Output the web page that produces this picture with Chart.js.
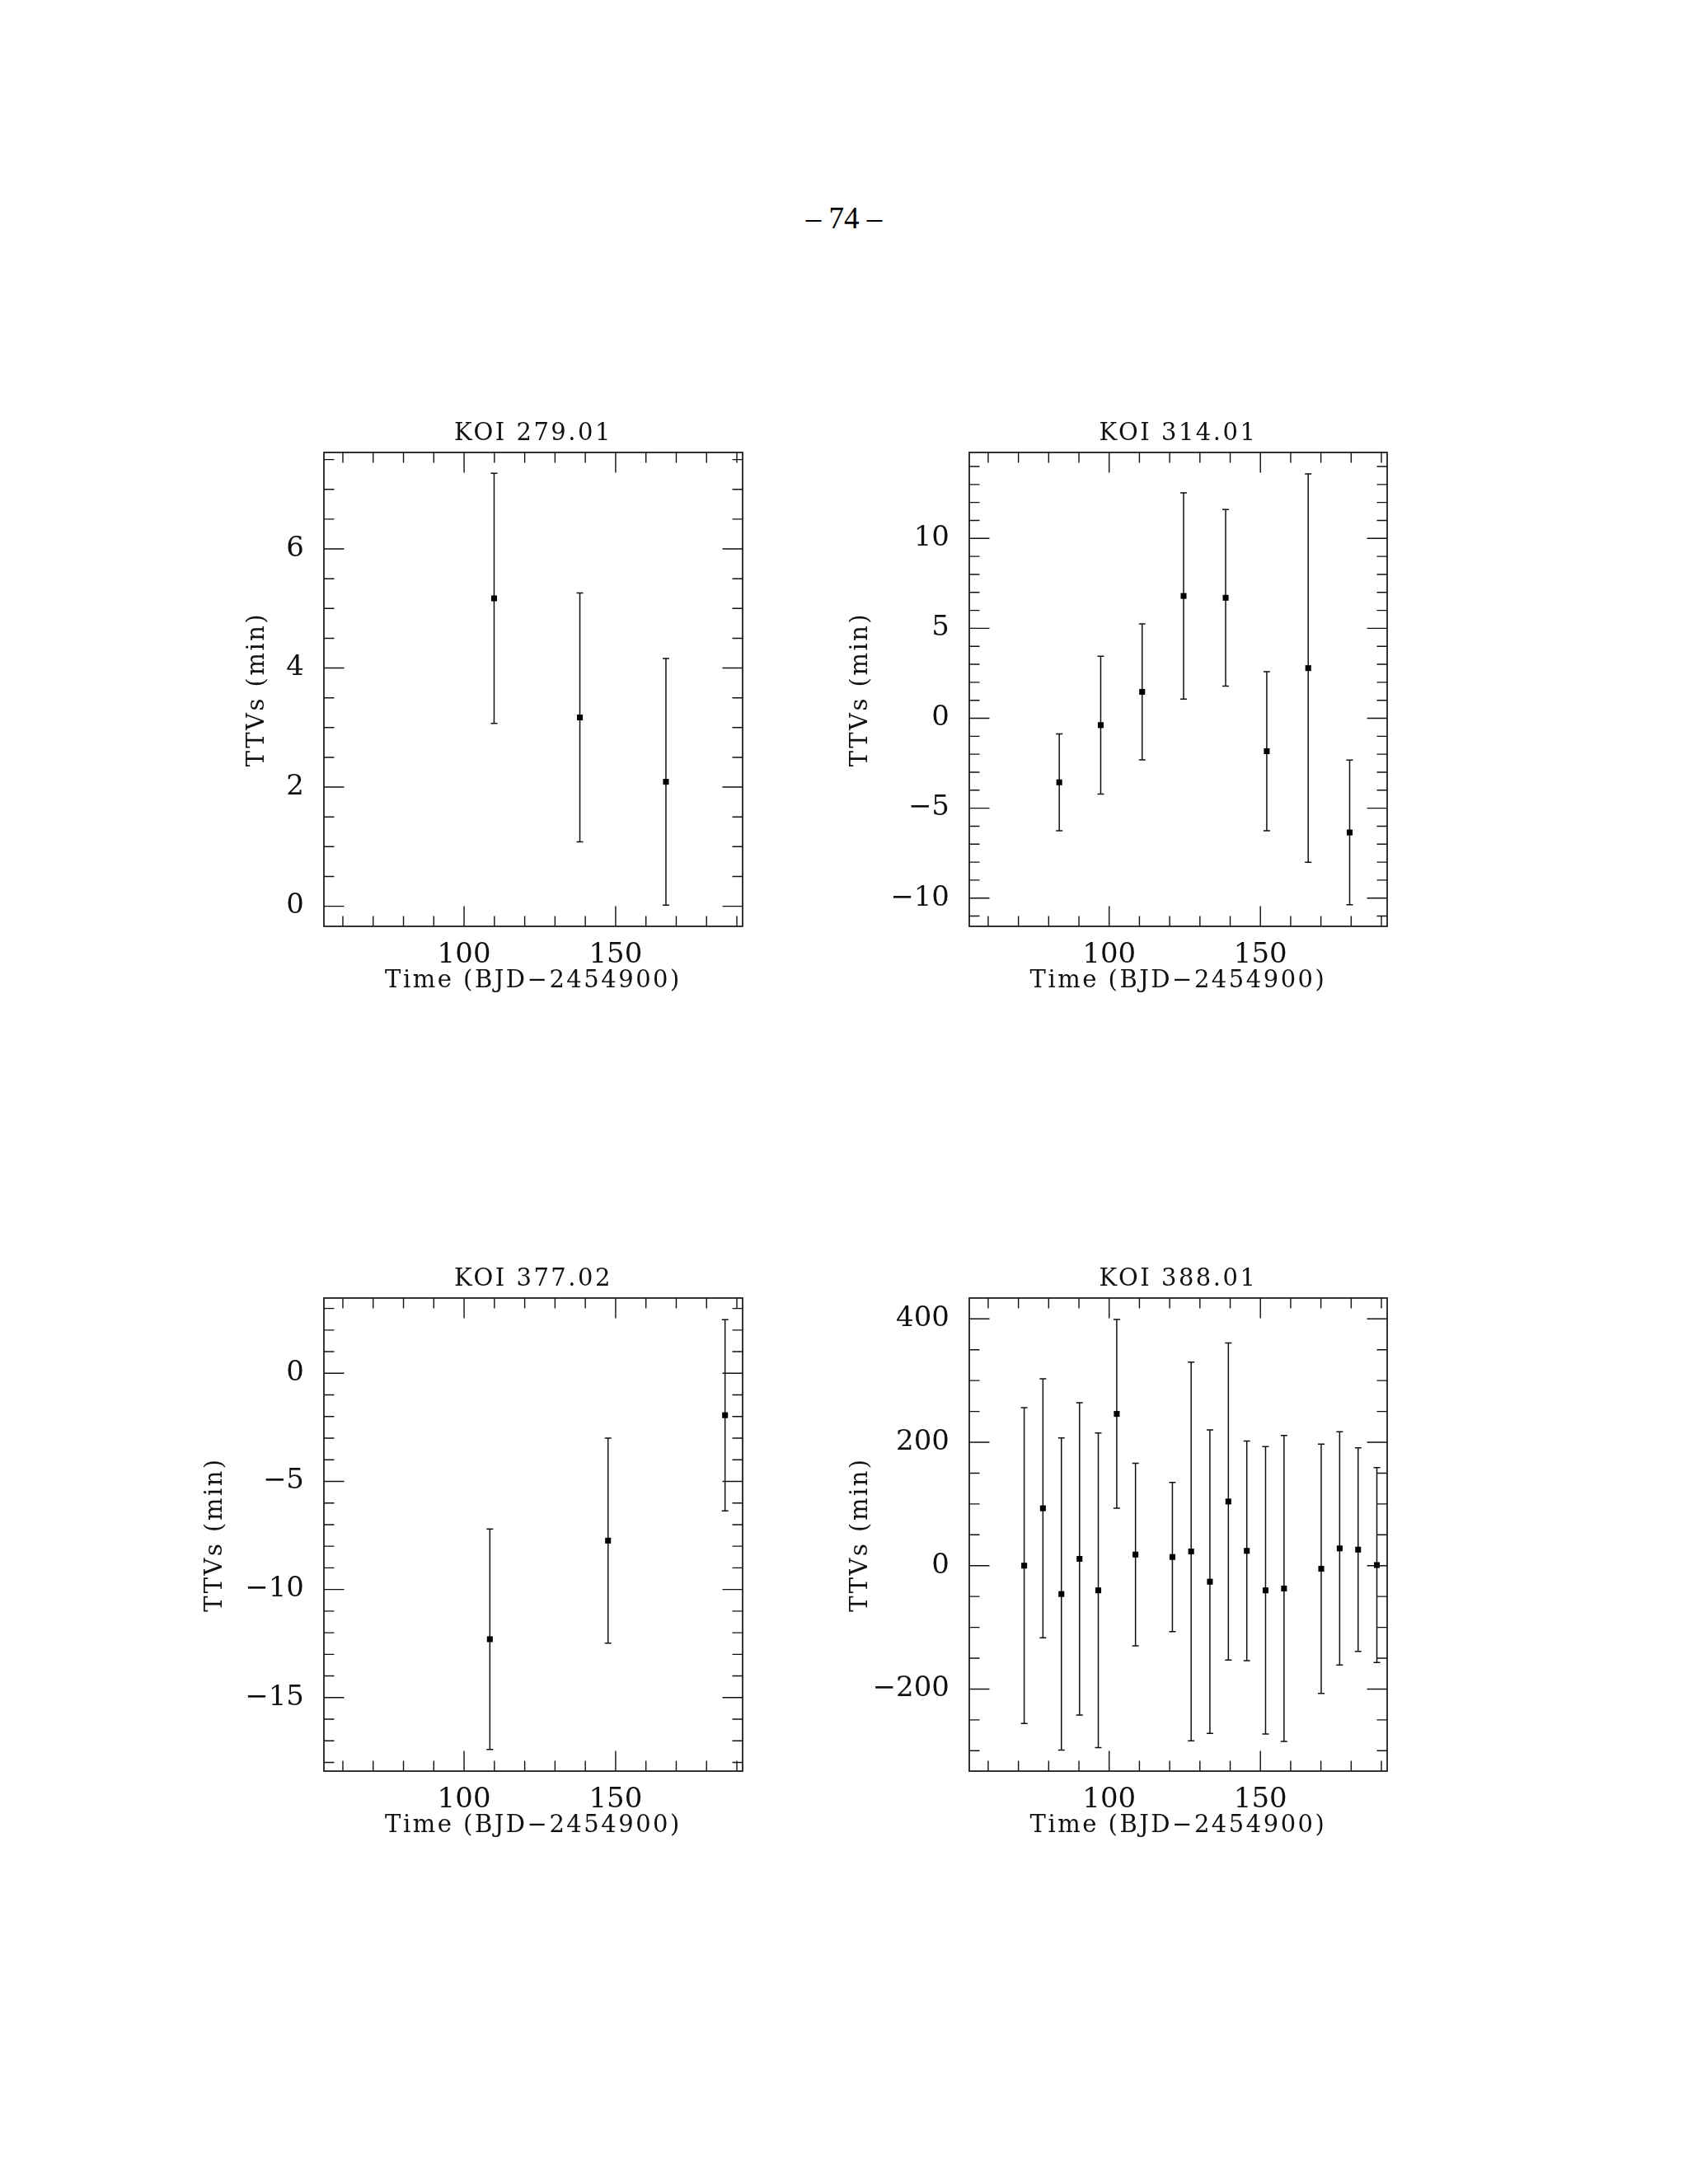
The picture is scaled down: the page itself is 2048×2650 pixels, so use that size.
<!DOCTYPE html>
<html>
<head>
<meta charset="utf-8">
<script src="https://cdn.jsdelivr.net/npm/chart.js@4.4.1/dist/chart.umd.min.js"></script>
<style>
  html, body { margin: 0; padding: 0; background: #fff; }
  body { width: 2048px; height: 2650px; position: relative; overflow: hidden; }
  canvas { position: absolute; }
  #page { position: absolute; left: 0; width: 2048px; top: 246px; text-align: center;
          font: 37px/37px "Liberation Serif", serif; color: #000; }
</style>
</head>
<body>
<div id="page">– 74 –</div>
<canvas id="koi279"></canvas>
<canvas id="koi314"></canvas>
<canvas id="koi377"></canvas>
<canvas id="koi388"></canvas>
<script>
// shared x axis (BJD-2454900)
const timeRange = [53.75, 191.9];
const timeTicks = [100, 150];

// KOI 279.01
const koi279Time = [109.9, 138.2, 166.6];
const koi279Ttv = [5.17, 3.17, 2.09];
const koi279Err = [2.10, 2.09, 2.07];
const koi279Range = [-0.338, 7.62];
const koi279Ticks = [0, 2, 4, 6];

// KOI 314.01
const koi314Time = [83.5, 97.2, 110.9, 124.6, 138.5, 152.1, 165.8, 179.5];
const koi314Ttv = [-3.56, -0.38, 1.47, 6.80, 6.70, -1.83, 2.79, -6.35];
const koi314Err = [2.69, 3.83, 3.78, 5.73, 4.91, 4.42, 10.8, 4.02];
const koi314Range = [-11.57, 14.78];
const koi314Ticks = [-10, -5, 0, 5, 10];

// KOI 377.02
const koi377Time = [108.5, 147.5, 186.1];
const koi377Ttv = [-12.30, -7.74, -1.94];
const koi377Err = [5.10, 4.74, 4.42];
const koi377Range = [-18.40, 3.48];
const koi377Ticks = [-15, -10, -5, 0];

// KOI 388.01
const koi388Time = [71.9, 78.1, 84.2, 90.2, 96.4, 102.5, 108.7, 120.9, 127.1,
                    133.3, 139.4, 145.5, 151.7, 157.8, 170.1, 176.2, 182.3, 188.5];
const koi388Ttv = [0, 93, -46, 11, -40, 246, 18, 14, 23, -26, 104, 24, -40, -37, -5, 28, 26, 1];
const koi388Err = [256, 210, 253, 253, 255, 153, 148, 121, 307, 246, 257, 178, 233, 248, 202, 189, 165, 158];
const koi388Range = [-333, 433.8];
const koi388Ticks = [-200, 0, 200, 400];

const TICK_MAJOR = 24.5;
const TICK_MINOR = 12.5;
const CAP = 4;
const TITLE_BOX = 37;  // title font 29 + 8 padding
const XAXIS_H = 81;

Chart.defaults.font.family = '"DejaVu Serif", serif';
Chart.defaults.color = '#111';

const stepValues = (min, max, step) => {
  const out = [];
  const start = Math.ceil(min / step - 1e-9);
  for (let k = start; k * step <= max + 1e-9; k++) out.push(k * step);
  return out;
};
const isMultiple = (v, step) => Math.abs(v / step - Math.round(v / step)) < 1e-6;

// error bars, inward ticks on all four sides, frame
const frameTicks = {
  id: 'frameTicks',
  beforeDraw(chart) {
    // titles are drawn before the datasets, tick labels (z: 1) after
    chart.ctx.letterSpacing = '2.5px';
  },
  beforeDatasetsDraw(chart) {
    const ctx = chart.ctx;
    ctx.letterSpacing = '0px';
    const { x, y } = chart.scales;
    ctx.save();
    ctx.strokeStyle = '#111';
    ctx.lineWidth = 1.5;
    chart.data.datasets.forEach(ds => {
      ds.data.forEach((p, i) => {
        const px = x.getPixelForValue(p.x);
        const top = y.getPixelForValue(p.y + ds.yErr[i]);
        const bot = y.getPixelForValue(p.y - ds.yErr[i]);
        ctx.beginPath();
        ctx.moveTo(px, top); ctx.lineTo(px, bot);
        ctx.moveTo(px - CAP, top); ctx.lineTo(px + CAP, top);
        ctx.moveTo(px - CAP, bot); ctx.lineTo(px + CAP, bot);
        ctx.stroke();
      });
    });
    ctx.restore();
  },
  afterDraw(chart, args, o) {
    const ctx = chart.ctx;
    const a = chart.chartArea;
    const { x, y } = chart.scales;
    ctx.save();
    ctx.strokeStyle = '#111';
    ctx.lineWidth = 1.4;
    ctx.beginPath();
    stepValues(x.min, x.max, o.xMinor).forEach(v => {
      const len = isMultiple(v, o.xMajor) ? TICK_MAJOR : TICK_MINOR;
      const px = x.getPixelForValue(v);
      ctx.moveTo(px, a.bottom); ctx.lineTo(px, a.bottom - len);
      ctx.moveTo(px, a.top); ctx.lineTo(px, a.top + len);
    });
    stepValues(y.min, y.max, o.yMinor).forEach(v => {
      const len = isMultiple(v, o.yMajor) ? TICK_MAJOR : TICK_MINOR;
      const py = y.getPixelForValue(v);
      ctx.moveTo(a.left, py); ctx.lineTo(a.left + len, py);
      ctx.moveTo(a.right, py); ctx.lineTo(a.right - len, py);
    });
    ctx.stroke();
    ctx.lineWidth = 1.7;
    ctx.strokeRect(a.left, a.top, a.right - a.left, a.bottom - a.top);
    ctx.restore();
  }
};

const fmtTick = v => (v < 0 ? '\u2212' + Math.abs(v) : String(v));

const renderPanel = (id, title, time, ttv, err, range, ticks, yMajor, yMinor, box, yAxisW) => {
  const canvas = document.getElementById(id);
  const padRight = 12;
  canvas.width = yAxisW + box.width + padRight;
  canvas.height = TITLE_BOX + box.height + XAXIS_H;
  canvas.style.left = (box.left - yAxisW) + 'px';
  canvas.style.top = (box.top - TITLE_BOX) + 'px';

  return new Chart(canvas, {
    type: 'scatter',
    data: {
      datasets: [{
        data: time.map((t, i) => ({ x: t, y: ttv[i] })),
        yErr: err,
        pointStyle: 'rect',
        pointRadius: 5,
        pointHoverRadius: 5,
        borderWidth: 0,
        backgroundColor: '#000',
      }]
    },
    options: {
      responsive: false,
      animation: false,
      devicePixelRatio: 1,
      events: [],
      layout: { padding: { top: 0, left: 0, right: padRight, bottom: 0 } },
      plugins: {
        legend: { display: false },
        tooltip: { enabled: false },
        title: {
          display: true, text: title, fullSize: false, color: '#111',
          font: { size: 29, weight: 'normal', lineHeight: 1 },
          padding: { top: 0, bottom: 8 }
        },
        frameTicks: { xMajor: 50, xMinor: 10, yMajor, yMinor }
      },
      scales: {
        x: {
          type: 'linear', min: timeRange[0], max: timeRange[1],
          grid: { display: false, drawTicks: false },
          border: { display: false },
          afterBuildTicks: s => { s.ticks = timeTicks.map(v => ({ value: v })); },
          afterFit: s => { s.height = XAXIS_H; },
          ticks: { z: 1, padding: 18, maxRotation: 0, autoSkip: false, color: '#111',
                   font: { size: 34, lineHeight: 1 }, callback: fmtTick },
          title: { display: true, text: 'Time (BJD\u22122454900)', color: '#111',
                   font: { size: 29, lineHeight: 1 }, padding: 0 }
        },
        y: {
          type: 'linear', min: range[0], max: range[1],
          grid: { display: false, drawTicks: false },
          border: { display: false },
          afterBuildTicks: s => { s.ticks = ticks.map(v => ({ value: v })); },
          afterFit: s => { s.width = yAxisW; },
          ticks: { z: 1, padding: 24, autoSkip: false, color: '#111',
                   font: { size: 34, lineHeight: 1 }, callback: fmtTick },
          title: { display: true, text: 'TTVs (min)', color: '#111',
                   font: { size: 29, lineHeight: 1 }, padding: 0 }
        }
      }
    },
    plugins: [frameTicks]
  });
};

renderPanel('koi279', 'KOI 279.01', koi279Time, koi279Ttv, koi279Err, koi279Range, koi279Ticks, 2, 0.5,
  { left: 393, top: 545, width: 508, height: 579 }, 95);
renderPanel('koi314', 'KOI 314.01', koi314Time, koi314Ttv, koi314Err, koi314Range, koi314Ticks, 5, 1,
  { left: 1176, top: 545, width: 507, height: 579 }, 146);
renderPanel('koi377', 'KOI 377.02', koi377Time, koi377Ttv, koi377Err, koi377Range, koi377Ticks, 5, 1,
  { left: 393, top: 1571, width: 508, height: 578 }, 146);
renderPanel('koi388', 'KOI 388.01', koi388Time, koi388Ttv, koi388Err, koi388Range, koi388Ticks, 200, 50,
  { left: 1176, top: 1571, width: 507, height: 578 }, 146);
</script>
</body>
</html>
